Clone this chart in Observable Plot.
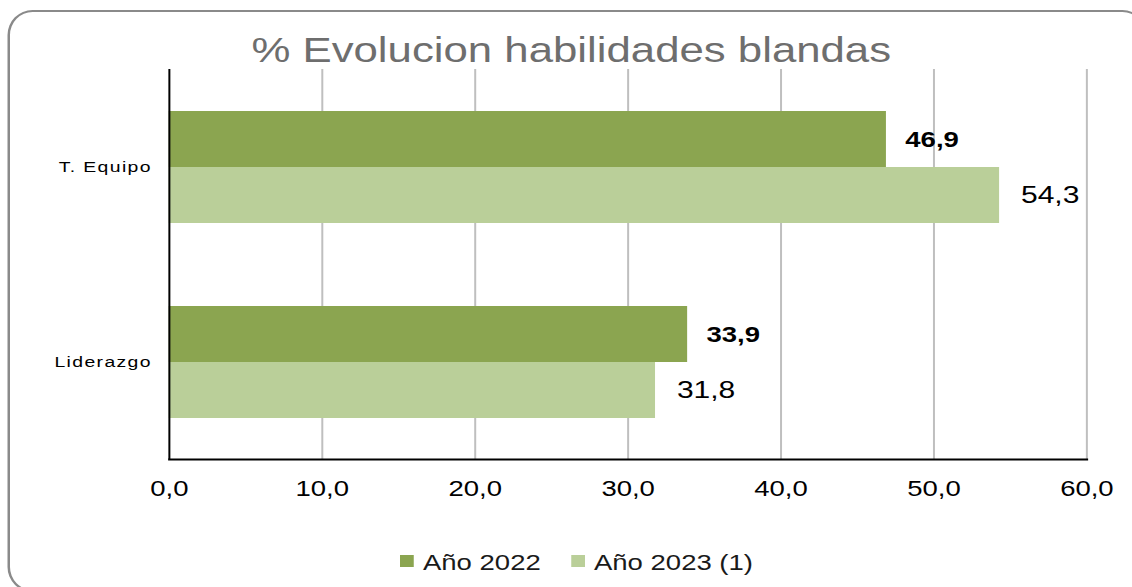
<!DOCTYPE html>
<html>
<head>
<meta charset="utf-8">
<script src="https://cdn.jsdelivr.net/npm/d3@7"></script>
<script src="https://cdn.jsdelivr.net/npm/@observablehq/plot@0.6"></script>
<style>
  html, body { margin: 0; padding: 0; background: #fff; overflow: hidden; }
  body { font-family: "Liberation Sans", Arial, sans-serif; }
  #stage { position: relative; width: 906px; height: 587px; transform: scaleX(1.25); transform-origin: 0 0; }
  #stage svg { position: absolute; left: 0; top: 0; }
  #stage svg g[aria-label="fy-axis tick label"] text { letter-spacing: 1.1px; }
  #title { position: absolute; left: 4px; top: 32px; width: 906px; text-align: center; font-size: 35px; line-height: 35px; color: #6e6e6e; white-space: nowrap; }
  #legend { position: absolute; left: 0; top: 0; }
  .sw { position: absolute; width: 11.2px; height: 12px; }
  .lt { position: absolute; font-size: 22px; line-height: 22px; color: #1a1a1a; white-space: nowrap; }
  #border { position: absolute; left: 5.6px; top: 10px; width: 912px; height: 582px; box-sizing: border-box; border: 2px solid #8a8a8a; border-radius: 20px / 25px; pointer-events: none; }
</style>
</head>
<body>
<div id="stage"></div>
<script>
const title = "% Evolucion habilidades blandas";
const categories = ["T. Equipo", "Liderazgo"];
const series = ["Año 2022", "Año 2023 (1)"];
const values2022 = [46.9, 33.9];
const values2023 = [54.3, 31.8];
const seriesColors = ["#8BA550", "#BACF99"];
const xTicks = [0, 10, 20, 30, 40, 50, 60];

const rows = categories.flatMap((c, i) => [
  {cat: c, serie: series[0], value: values2022[i]},
  {cat: c, serie: series[1], value: values2023[i]}
]);
const fmt = d => d.toFixed(1).replace(".", ",");
const font = "'Liberation Sans', Arial, sans-serif";

const plot = Plot.plot({
  width: 906,
  height: 520,
  marginLeft: 135,
  marginRight: 37,
  marginTop: 68,
  marginBottom: 61,
  style: {background: "transparent", overflow: "visible", fontFamily: font},
  x: {domain: [0, 60], axis: null},
  y: {domain: series, axis: null, paddingInner: 0, paddingOuter: 0.73},
  fy: {domain: categories, axis: null, padding: 0},
  color: {domain: series, range: seriesColors},
  marks: [
    Plot.gridX(xTicks.slice(1), {stroke: "#bfbfbf", strokeOpacity: 1, strokeWidth: 1.6}),
    Plot.barX(rows, {x: "value", y: "serie", fy: "cat", fill: "serie"}),
    Plot.text(rows.filter(d => d.serie === series[0]), {
      x: "value", y: "serie", fy: "cat", text: d => fmt(d.value),
      textAnchor: "start", dx: 15, fontSize: 22, fontWeight: "bold", fill: "#000"
    }),
    Plot.text(rows.filter(d => d.serie === series[1]), {
      x: "value", y: "serie", fy: "cat", text: d => fmt(d.value),
      textAnchor: "start", dx: 17, fontSize: 24, fill: "#000"
    }),
    Plot.ruleX([0], {stroke: "#000", strokeWidth: 1.6}),
    Plot.frame({anchor: "bottom", fy: () => categories[categories.length - 1], stroke: "#000", strokeWidth: 2}),
    Plot.axisX({ticks: xTicks, tickFormat: fmt, tickSize: 0, tickPadding: 21, fontSize: 22, fill: "#000", label: null}),
    Plot.axisFy({anchor: "left", tickSize: 0, tickPadding: 14, fontSize: 15.5, fill: "#000", label: null})
  ]
});

const stage = document.getElementById("stage");
stage.appendChild(plot);

const t = document.createElement("div");
t.id = "title";
t.textContent = title;
stage.appendChild(t);

// legend built from the series and colour arrays
const legend = document.createElement("div");
legend.id = "legend";
const legendPos = [{sw: 320, tx: 338.4}, {sw: 457.3, tx: 475.2}];
series.forEach((s, i) => {
  const sw = document.createElement("div");
  sw.className = "sw";
  sw.style.left = legendPos[i].sw + "px";
  sw.style.top = "555px";
  sw.style.background = seriesColors[i];
  const lt = document.createElement("div");
  lt.className = "lt";
  lt.style.left = legendPos[i].tx + "px";
  lt.style.top = "552px";
  lt.textContent = s;
  legend.appendChild(sw);
  legend.appendChild(lt);
});
stage.appendChild(legend);

const border = document.createElement("div");
border.id = "border";
stage.appendChild(border);
</script>
</body>
</html>
